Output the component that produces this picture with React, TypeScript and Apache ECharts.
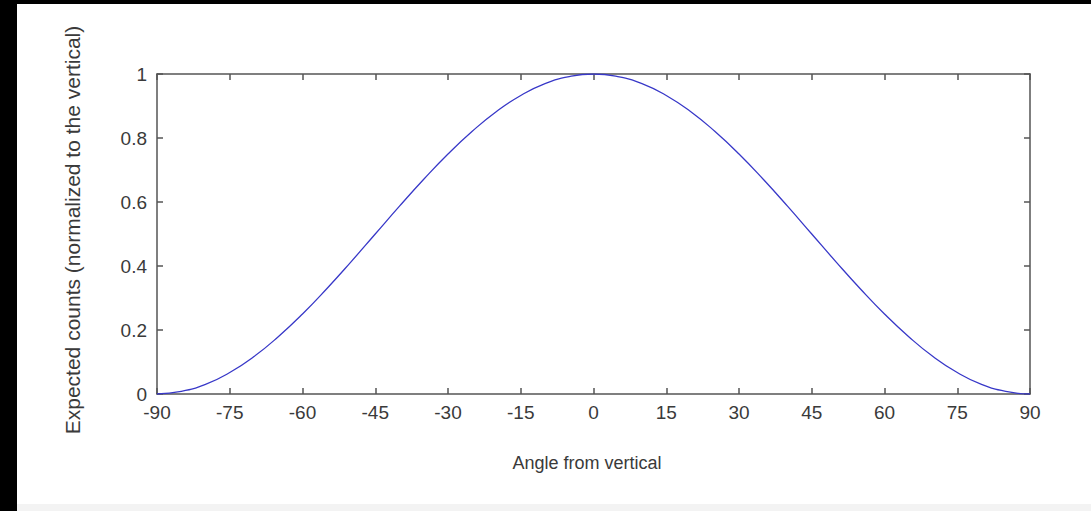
import React, { useEffect, useRef } from "react";
import * as echarts from "echarts";

const angles: number[] = [
  -90, -85, -80, -75, -70, -65, -60, -55, -50, -45, -40, -35, -30, -25, -20, -15, -10, -5,
  0, 5, 10, 15, 20, 25, 30, 35, 40, 45, 50, 55, 60, 65, 70, 75, 80, 85, 90,
];
const expectedCounts: number[] = [
  0, 0.008, 0.03, 0.067, 0.117, 0.179, 0.25, 0.329, 0.413, 0.5, 0.587, 0.671, 0.75, 0.821, 0.883, 0.933, 0.97, 0.992,
  1, 0.992, 0.97, 0.933, 0.883, 0.821, 0.75, 0.671, 0.587, 0.5, 0.413, 0.329, 0.25, 0.179, 0.117, 0.067, 0.03, 0.008, 0,
];
const xTitle = "Angle from vertical";
const yTitle = "Expected counts (normalized to the vertical)";

const FONT = "'Liberation Sans', Arial, Helvetica, sans-serif";
const AXIS_COLOR = "#555555";
const LABEL_COLOR = "#3a3a3a";

export default function App() {
  const ref = useRef<HTMLDivElement>(null);
  useEffect(() => {
    if (!ref.current) return;
    const chart = echarts.init(ref.current, undefined, { renderer: "svg" });
    const axisLine = { show: true, onZero: false, lineStyle: { color: AXIS_COLOR, width: 1.5 } };
    const axisTick = { show: true, inside: true, length: 6, lineStyle: { color: AXIS_COLOR, width: 1.5 } };
    chart.setOption({
      animation: false,
      backgroundColor: "#ffffff",
      grid: { left: 157, top: 74, width: 873, height: 320, containLabel: false },
      xAxis: [
        {
          type: "value", position: "bottom", min: -90, max: 90, interval: 15,
          axisLine, axisTick, splitLine: { show: false },
          axisLabel: { color: LABEL_COLOR, fontSize: 19, fontFamily: FONT, margin: 9 },
        },
        {
          type: "value", position: "top", min: -90, max: 90, interval: 15,
          axisLine, axisTick, splitLine: { show: false }, axisLabel: { show: false },
        },
      ],
      yAxis: [
        {
          type: "value", position: "left", min: 0, max: 1, interval: 0.2,
          axisLine, axisTick, splitLine: { show: false },
          axisLabel: { color: LABEL_COLOR, fontSize: 19, fontFamily: FONT, margin: 10 },
        },
        {
          type: "value", position: "right", min: 0, max: 1, interval: 0.2,
          axisLine, axisTick, splitLine: { show: false }, axisLabel: { show: false },
        },
      ],
      series: [
        {
          type: "line",
          data: angles.map((a, i) => [a, expectedCounts[i]]),
          smooth: true,
          showSymbol: false,
          lineStyle: { color: "#3838c8", width: 1.3 },
          z: 1,
        },
      ],
      graphic: [
        { type: "rect", left: 0, top: 0, shape: { width: 17, height: 511 }, style: { fill: "#000000" } },
        { type: "rect", left: 0, top: 0, shape: { width: 1091, height: 4 }, style: { fill: "#000000" } },
        { type: "rect", left: 17, top: 504, shape: { width: 1074, height: 7 }, style: { fill: "#f3f3f3" } },
        {
          type: "text", x: 587, y: 463,
          style: { text: xTitle, fill: LABEL_COLOR, font: `18px ${FONT}`, textAlign: "center", textVerticalAlign: "middle" },
        },
        {
          type: "text", x: 72, y: 230, rotation: Math.PI / 2,
          style: { text: yTitle, fill: LABEL_COLOR, font: `21px ${FONT}`, textAlign: "center", textVerticalAlign: "middle" },
        },
      ],
    });
    return () => chart.dispose();
  }, []);
  return (
    <div
      ref={ref}
      style={{ position: "fixed", left: 0, top: 0, width: 1091, height: 511 }}
    />
  );
}
